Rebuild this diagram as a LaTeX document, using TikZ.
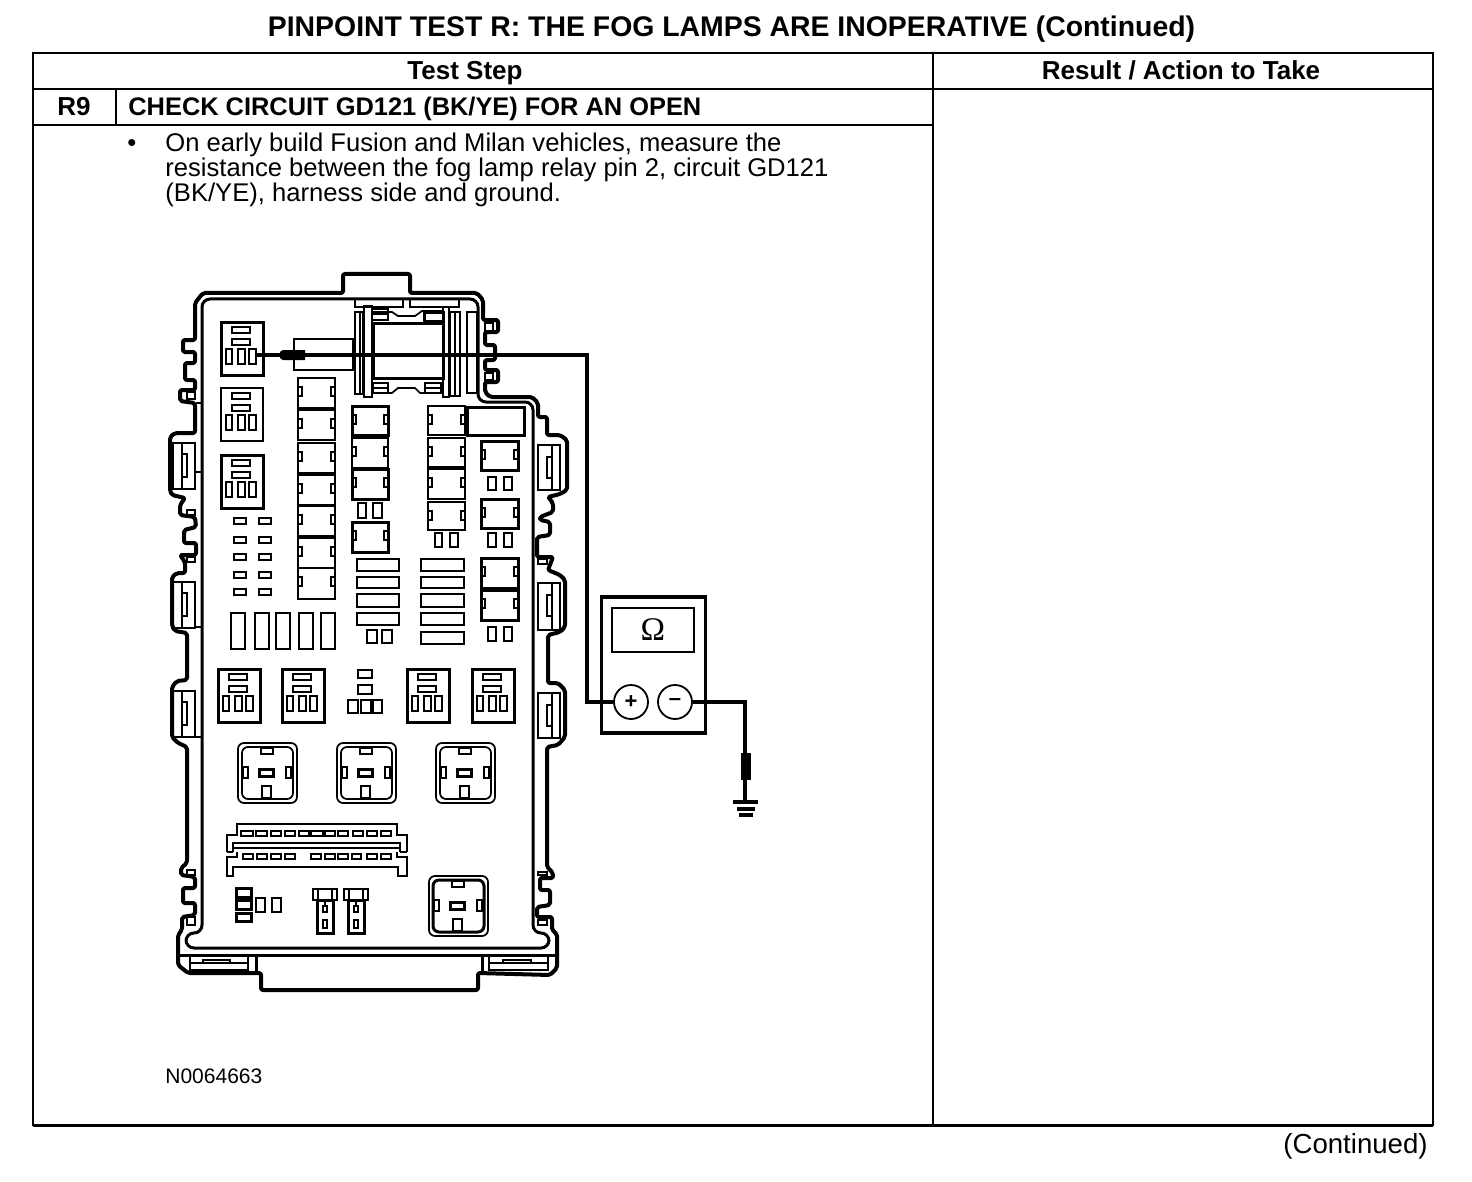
\documentclass[tikz,border=0pt]{standalone}
\usepackage{fontspec}
\setmainfont{Liberation Sans}
\newfontfamily\omfont{Liberation Serif}
\newcommand\rct[5][ln]{\draw[#1] (#2,#3) rectangle (#4,#5);}
% relay block: x,y = top-left
\newcommand\relblk[3][ln]{\begin{scope}[shift={(#2,#3)}]
  \draw[#1] (0,0) rectangle (42,53);
  \draw[ln] (11,5) rectangle (29,11); \draw[ln] (11,17) rectangle (29,23);
  \draw[ln] (5,27) rectangle (11,42); \draw[ln] (17,27) rectangle (24,42); \draw[ln] (28,27) rectangle (35,42);
\end{scope}}
% fuse block with side notches
\newcommand\fblk[5][ln]{\draw[#1] (#2,#3) rectangle (#4,#5);
  \draw[ln] (#2,#3+9) rectangle (#2+4,#3+18);
  \draw[ln] (#4-4,#3+9) rectangle (#4,#3+18);}
% pair of small blocks
\newcommand\prb[6]{\draw[ln] (#1,#5) rectangle (#2,#6); \draw[ln] (#3,#5) rectangle (#4,#6);}
% big relay socket
\newcommand\bigrel[3][ln]{\begin{scope}[shift={(#2,#3)}]
  \draw[ln,rounded corners=3pt] (0,0) rectangle (59,60);
  \draw[#1,rounded corners=3pt] (4,4) rectangle (55,56);
  \draw[ln] (23,5) rectangle (35,11);
  \draw[ln] (5,24) rectangle (10,35);
  \draw[ln] (48,24) rectangle (53,35);
  \draw[hv] (21,26) rectangle (35,33);
  \draw[ln] (24,43) rectangle (33,55);
\end{scope}}
\newcommand\plug[1]{\begin{scope}[shift={(#1,0)}]
  \draw[ln] (0,889) rectangle (24,900);
  \draw[ln] (5,889) -- (5,900) (19,889) -- (19,900);
  \draw[hv] (4,900) rectangle (20,933);
  \draw[ln] (12,900) -- (12,906);
  \draw[ln] (10,906) rectangle (14,912);
  \draw[ln] (10,920) rectangle (14,928);
\end{scope}}
\tikzset{
  ln/.style={line width=0.85pt,line join=miter},
  hv/.style={line width=1.5pt,line join=miter},
  housing/.style={line width=2pt,line join=round,rounded corners=1pt},
  wire/.style={line width=1.7pt,line join=miter},
  grid/.style={line width=0.9pt},
  txt/.style={inner sep=0pt,anchor=base west,font=\fontsize{12.8}{13}\selectfont},
  hd/.style={inner sep=0pt,anchor=base,font=\fontsize{13}{13}\selectfont\bfseries},
}
\begin{document}
\begin{tikzpicture}[x=0.5pt,y=-0.5pt]
\useasboundingbox (0,0) rectangle (1472,1182);
% ---------- table ----------
\draw[grid] (33,53) rectangle (1433,1125);
\draw[line width=1.5pt] (33,1125) -- (1433,1125);
\draw[grid] (33,89) -- (1433,89);
\draw[grid] (33,125) -- (933,125);
\draw[grid] (933,53) -- (933,1125);
\draw[grid] (116,89) -- (116,125);
\node[inner sep=0pt,anchor=base,font=\fontsize{14.2}{14}\selectfont\bfseries] (title) at (731.5,37) {PINPOINT TEST R: THE FOG LAMPS ARE INOPERATIVE (Continued)};
\node[hd] (h1) at (465,80) {Test Step};
\node[hd] (h2) at (1181,80) {Result / Action to Take};
\node[hd] (r9) at (74,116) {R9};
\node[hd,anchor=base west,font=\fontsize{12.7}{13}\selectfont\bfseries] (chk) at (128,116) {CHECK CIRCUIT GD121 (BK/YE) FOR AN OPEN};
\node[txt] (bul) at (127,152) {•};
\node[txt] (l1) at (165,152) {On early build Fusion and Milan vehicles, measure the};
\node[txt] (l2) at (165,177) {resistance between the fog lamp relay pin 2, circuit GD121};
\node[txt] (l3) at (165,202) {(BK/YE), harness side and ground.};
\node[inner sep=0pt,anchor=base west,font=\fontsize{10.5}{11}\selectfont] (ref) at (165,1083) {N0064663};
\node[inner sep=0pt,anchor=base east,font=\fontsize{13.8}{14}\selectfont] (cont) at (1428,1153) {(Continued)};
% ---------- housing outline ----------
\draw[housing] (343,293) -- (343,274) -- (410,274) -- (410,293) -- (477,293) -- (483,300) -- (483,320)
  -- (498,320) -- (498,332) -- (485,332) -- (485,345) -- (495,345) -- (495,360) -- (485,360) -- (485,370)
  -- (498,370) -- (498,382) -- (485,382) -- (485,392) -- (490,397) -- (532,397) -- (538,403) -- (538,417)
  -- (547,417) -- (547,435) -- (560,435) -- (567,440) -- (567,490) -- (560,494) -- (548,497) -- (553,503) -- (553,512)
  -- (540,517) -- (540,520) -- (550,522) -- (550,535) -- (537,537) -- (537,557) -- (553,557) -- (548,570)
  -- (560,575) -- (565,580) -- (565,627) -- (560,632) -- (548,635) -- (548,683) -- (558,683) -- (565,690)
  -- (565,737) -- (558,745) -- (547,747) -- (547,867) -- (553,873) -- (553,878) -- (540,878) -- (540,890)
  -- (550,890) -- (550,905) -- (537,907) -- (537,917) -- (552,917) -- (552,930) -- (557,934) -- (557,968)
  -- (550,975) -- (478,973) -- (478,990) -- (261,990) -- (261,973) -- (188,973) -- (178,965) -- (178,935)
  -- (182,930) -- (182,917) -- (195,915) -- (195,903) -- (183,903) -- (183,888) -- (195,888) -- (195,877)
  -- (181,875) -- (181,868) -- (187,863) -- (187,747) -- (178,743) -- (172,737) -- (172,687) -- (177,681)
  -- (187,680) -- (187,633) -- (175,631) -- (172,626) -- (172,577) -- (177,573) -- (185,573) -- (185,562) -- (180,555)
  -- (196,555) -- (196,543) -- (184,543) -- (184,530) -- (196,527) -- (195,517) -- (180,515) -- (180,505) -- (185,498)
  -- (172,495) -- (170,491) -- (170,437) -- (175,433) -- (195,433) -- (195,403) -- (180,401) -- (180,390) -- (195,390)
  -- (195,380) -- (185,380) -- (185,363) -- (195,363) -- (195,352) -- (183,352) -- (183,340) -- (195,340)
  -- (195,303) -- (203,293) -- cycle;
\draw[hv,rounded corners=4pt] (202,933) -- (202,299) -- (478,299) -- (478,402) -- (533,402) -- (533,933) -- (549,933) -- (549,948) -- (186,948) -- (186,933) -- cycle;
\draw[hv] (180,955) -- (557,955);
% small pockets between outline and wall
\foreach \ya/\yb in {392/399,510/515,557/562,870/875,917/925}{
  \draw[ln] (187,\ya) rectangle (195,\yb);
}
\foreach \xa/\xb/\ya/\yb in {485/493/323/332,485/493/373/380,538/547/559/564,538/547/872/875,538/547/920/925}{
  \draw[ln] (\xa,\ya) rectangle (\xb,\yb);
}
% bottom clips
\rct{190}{956}{248}{970}
\draw[ln] (190,963) -- (248,963);
\rct{203}{960}{230}{963}
\draw[hv] (256,955) -- (256,973);
\rct{489}{956}{548}{970}
\draw[ln] (489,963) -- (548,963);
\rct{503}{960}{531}{963}
\draw[hv] (482,955) -- (482,973);
% side clips
\foreach \yy/\yz in {443/489,582/628,691/737}{
  \draw[ln] (173,\yy) rectangle (195,\yz);
  \draw[ln] (182,\yy) -- (182,\yz);
  \draw[ln] (182,\yy+11) rectangle (187,\yy+34);
}
\foreach \yy/\yz in {445/490,583/630,693/738}{
  \draw[ln] (538,\yy) rectangle (560,\yz);
  \draw[ln] (552,\yy) -- (552,\yz);
  \draw[ln] (547,\yy+12) rectangle (552,\yy+33);
}
\draw[ln] (196,403) -- (202,403) (196,472) -- (202,472) (196,627) -- (202,627) (196,737) -- (202,737);
% ---------- top mechanism ----------
\rct{355}{299}{403}{307}
\rct{410}{299}{459}{307}
\rct{355}{312}{363}{394}
\draw[ln] (360,312) -- (360,394);
\rct{364}{306}{372}{397}
\rct[hv]{373}{323}{443}{378}
\rct{443}{307}{449}{397}
\rct{450}{312}{460}{396}
\draw[ln] (455,312) -- (455,396);
\rct{467}{312}{477}{393}
\draw[ln] (372,312) -- (392,312) -- (398,316) -- (415,316) -- (422,311) -- (443,311);
\draw[ln] (372,393) -- (392,393) -- (398,388) -- (415,388) -- (420,393) -- (443,393);
\rct{372}{309}{388}{320}
\draw[ln] (372,314) -- (388,314);
\rct[hv]{424}{312}{443}{321}
\rct{373}{383}{388}{393}
\draw[ln] (373,388) -- (388,388);
\rct{425}{383}{441}{393}
\draw[ln] (425,388) -- (441,388);
\rct{294}{339}{353}{370}
% ---------- relay blocks ----------
\relblk[hv]{221}{322}
\relblk[ln]{221}{388}
\relblk[hv]{221}{455}
\relblk[hv]{218}{669}
\relblk[hv]{282}{669}
\relblk[hv]{407}{669}
\relblk[hv]{472}{669}
\coordinate (pin2) at (256,355);
% middle stack
\rct{358}{670}{372}{678}
\rct{358}{685}{372}{694}
\rct{348}{700}{358}{713}
\rct{361}{700}{371}{713}
\rct{373}{700}{382}{713}
% ---------- fuse blocks ----------
\fblk{298}{378}{335}{408}
\fblk{298}{410}{335}{440}
\fblk{298}{443}{335}{473}
\fblk{298}{475}{335}{505}
\fblk{298}{506}{335}{536}
\fblk{298}{538}{335}{568}
\fblk{298}{568}{335}{599}
\fblk[hv]{352}{406}{388}{435}
\fblk{352}{438}{388}{468}
\fblk[hv]{352}{469}{388}{499}
\prb{358}{366}{373}{382}{503}{518}
\fblk[hv]{352}{522}{388}{552}
\fblk{428}{406}{465}{435}
\fblk{428}{438}{465}{467}
\fblk{428}{469}{465}{499}
\fblk{428}{502}{465}{530}
\prb{435}{442}{450}{458}{533}{547}
\rct[hv]{467}{407}{524}{435}
\fblk[hv]{481}{441}{518}{470}
\prb{488}{496}{504}{512}{477}{490}
\fblk[hv]{481}{499}{518}{528}
\prb{488}{496}{504}{512}{533}{547}
\fblk[hv]{481}{558}{518}{588}
\fblk[hv]{481}{590}{518}{620}
\prb{488}{496}{504}{512}{627}{641}
% small terminals
\foreach \yy in {518,537,554,572,589}{
  \draw[ln] (234,\yy) rectangle (246,\yy+6);
  \draw[ln] (259,\yy) rectangle (271,\yy+6);
}
% tall fuses
\foreach \xa/\xb in {231/245,255/269,276/290,299/313,321/335}{
  \draw[ln] (\xa,613) rectangle (\xb,649);
}
% horizontal fuses
\foreach \ya/\yb in {559/571,577/588,594/607,613/625}{
  \draw[ln] (357,\ya) rectangle (399,\yb);
}
\prb{367}{377}{382}{392}{630}{643}
\foreach \ya/\yb in {559/571,577/588,594/607,613/625,632/644}{
  \draw[ln] (421,\ya) rectangle (464,\yb);
}
% ---------- big relay sockets ----------
\bigrel{238}{743}
\bigrel{337}{743}
\bigrel{436}{743}
\bigrel[hv]{429}{876}
% ---------- long connector ----------
\draw[ln] (227,852) -- (227,835) -- (237,835) -- (237,824) -- (397,824) -- (397,835) -- (407,835) -- (407,852);
\draw[ln] (233,852) -- (233,843) -- (400,843) -- (400,852);
\draw[ln] (227,852) -- (233,852) (400,852) -- (407,852);
\draw[ln] (233,848) -- (400,848);
\draw[ln] (227,876) -- (227,857) -- (237,857) -- (237,853) -- (397,853) -- (397,857) -- (407,857) -- (407,876) -- (398,876) -- (398,867) -- (233,867) -- (233,876) -- cycle;
\fill[white] (238,851.7) rectangle (396,854.3);
\foreach \xa/\xb in {241/253,256/267,271/281,285/295,299/309,311/323,325/335,338/348,353/363,367/377,381/391}{
  \draw[ln] (\xa,831) rectangle (\xb,836);
}
\foreach \xa/\xb in {243/253,257/267,271/281,285/295,311/321,325/335,338/348,352/361,367/377,381/391}{
  \draw[ln] (\xa,854) rectangle (\xb,859);
}
% lower-left small parts
\rct[hv]{236}{888}{251}{897}
\rct[hv]{236}{900}{251}{909}
\rct[hv]{236}{913}{251}{921}
\rct{256}{898}{265}{912}
\rct{272}{898}{281}{912}
\plug{313}
\plug{344}
% ---------- meter ----------
\node[draw,line width=1.7pt,minimum width=52pt,minimum height=68pt,inner sep=0pt] (meter) at (653.5,665) {};
\node[draw,line width=1pt,minimum width=41pt,minimum height=22pt,inner sep=0pt,font=\omfont\fontsize{16.5}{16}\selectfont] (disp) at (653,630) {Ω};
\node[draw,circle,line width=0.9pt,minimum size=17pt,inner sep=0pt,font=\fontsize{11}{11}\selectfont\bfseries] (plus) at (631,702) {\raisebox{-0.4pt}{+}};
\node[draw,circle,line width=0.9pt,minimum size=17pt,inner sep=0pt,font=\fontsize{11}{11}\selectfont\bfseries] (minus) at (675,702) {\raisebox{-1.2pt}{–}};
\coordinate (gnd) at (745,802);
% wires
\draw[wire] (pin2) -| (587,702) -- (plus.west);
\draw[wire] (minus.east) -| (gnd);
% probes
\fill (305,350) -- (283,350) to[out=180,in=180,looseness=1.2] (283,360) -- (305,360) -- cycle;
\fill (741,753) rectangle (751,780);
% ground
\draw[line width=1.8pt] (733,802) -- (758,802);
\draw[line width=1.8pt] (737,809) -- (755,809);
\draw[line width=1.8pt] (739,815) -- (753,815);
\end{tikzpicture}
\end{document}
